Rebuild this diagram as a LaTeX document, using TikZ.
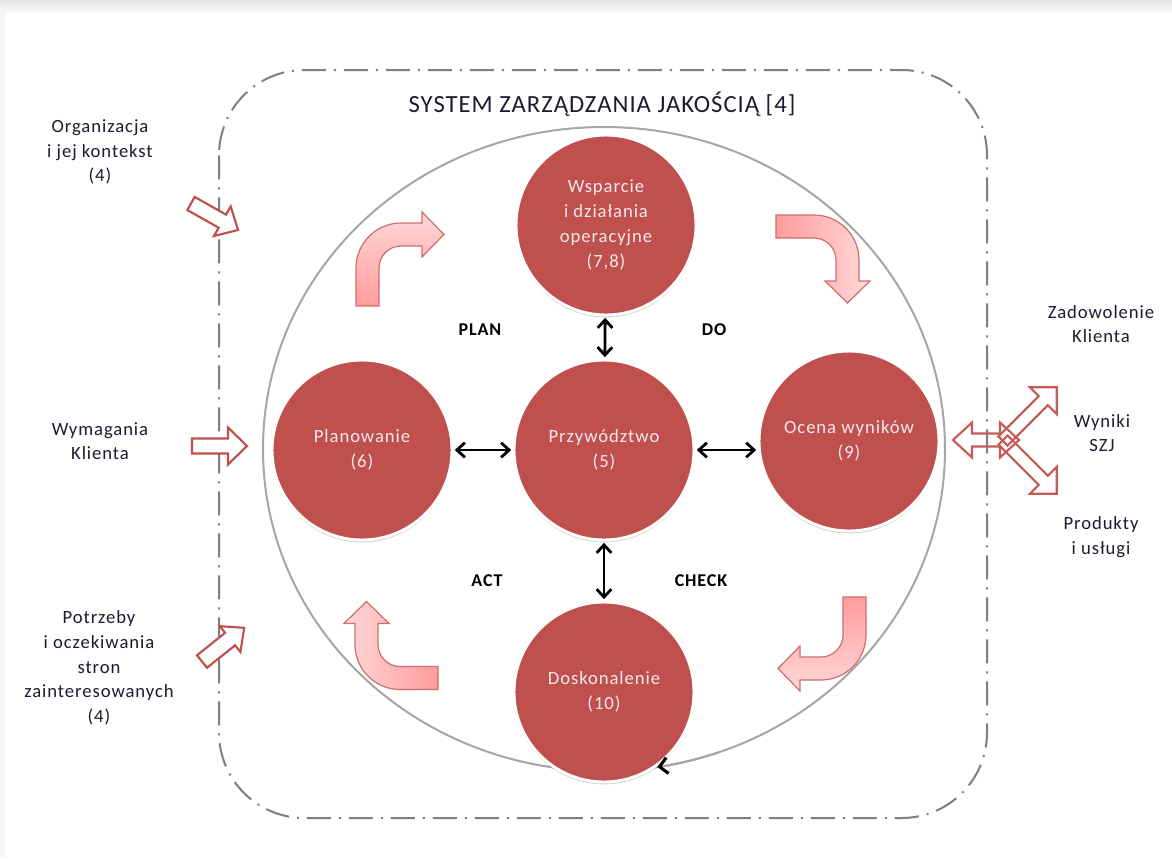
\documentclass[tikz,border=0pt]{standalone}
\usepackage{fontspec}
\setmainfont{Carlito}
\newfontfamily\labelfont[LetterSpace=5]{Carlito}
\newfontfamily\titlefont[LetterSpace=4]{Carlito}
\usetikzlibrary{arrows.meta,calc,shadows}

\definecolor{qmsred}{HTML}{C0504D}
\definecolor{qmstext}{HTML}{1C1C30}
\definecolor{qmsinner}{HTML}{F4E8EC}
\definecolor{ringgray}{HTML}{A6A6A6}
\definecolor{framegray}{HTML}{7F7F7F}
\definecolor{pinkdeep}{HTML}{FF9C9C}
\definecolor{pinklight}{HTML}{FFD8D8}
\definecolor{pinkedge}{HTML}{CF6E6B}
\definecolor{flowred}{HTML}{C55A57}

% straight block arrow: tail centre #1, angle #2, length #3,
% shaft half width #4, head half width #5, head length #6, style #7
\newcommand\blockarrow[7]{%
  \path[#7, shift={#1}, rotate=#2]
    (0,-#4) -- ({#3-#6},-#4) -- ({#3-#6},-#5) -- (#3,0)
    -- ({#3-#6},#5) -- ({#3-#6},#4) -- (0,#4) -- cycle;}

% block arrow with a head at both ends: left tip #1, length #2,
% shaft half width #3, head half width #4, head length #5, style #6
\newcommand\twinarrow[6]{%
  \path[#6, shift={#1}]
    (0,0) -- (#5,-#4) -- (#5,-#3) -- ({#2-#5},-#3) -- ({#2-#5},-#4)
    -- (#2,0) -- ({#2-#5},#4) -- ({#2-#5},#3) -- (#5,#3) -- (#5,#4) -- cycle;}

% bent PDCA arrow: tail centre #1, rotation #2, shading #3
\newcommand\bentarrow[3]{%
  \path[bentstyle, #3, shift={#1}, rotate=#2]
    (-11.5,0) -- (-11.5,-38) .. controls (-11.5,-62.8) and (8.7,-83) .. (33.5,-83)
    -- (54.5,-83) -- (54.5,-94) -- (76.5,-71.5) -- (54.5,-49) -- (54.5,-60)
    -- (33.5,-60) .. controls (21.4,-60) and (11.5,-50.1) .. (11.5,-38)
    -- (11.5,0) -- cycle;}

\tikzset{
  stage/.style={circle, fill=qmsred, draw=white, line width=2.2pt,
    minimum size=135pt, inner sep=0pt, align=center, text=qmsinner,
    font=\labelfont\fontsize{14}{18.75}\selectfont,
    drop shadow={shadow xshift=0pt, shadow yshift=-1.8pt,
      opacity=0.18, fill=black}},
  lbl/.style={align=center, text=qmstext, inner sep=0pt,
    font=\labelfont\fontsize{14}{18.5}\selectfont},
  phase/.style={text=black, inner sep=0pt,
    font=\labelfont\bfseries\fontsize{13.5}{16}\selectfont},
  link/.style={<->, >={Straight Barb[length=6pt,width=11pt]},
    line width=2.1pt, black, shorten <=1pt, shorten >=1pt},
  inarrow/.style={draw=qmsred, fill=white, line width=1.6pt, line join=miter},
  outarrow/.style={draw=flowred, line width=1.6pt, line join=miter},
  bentstyle/.style={draw=pinkedge, line width=0.9pt},
}

\begin{document}
\begin{tikzpicture}[x=0.75pt, y=-0.75pt]
\useasboundingbox (0,0) rectangle (1172,858);

% page
\fill[white] (0,0) rectangle (1172,858);
\shade[top color=gray!22, bottom color=gray!6] (0,0) rectangle (1172,11);
\fill[gray!6] (0,11) rectangle (6,858);

% system boundary
\draw[framegray, line width=1.5pt, rounded corners=64pt,
      dash pattern=on 18pt off 6pt on 1.5pt off 6pt]
  (219,70) rectangle (987,818);
\node[font=\titlefont\fontsize{18.5}{22}\selectfont, text=qmstext] (title)
  at (602,104) {SYSTEM ZARZĄDZANIA JAKOŚCIĄ [4]};

% PDCA ring
\coordinate (cyc) at (604,449);
\draw[ringgray, line width=1.5pt] (cyc) ellipse [x radius=341, y radius=322];

% bent PDCA arrows
\bentarrow{(367.5,306)}{0}{top color=pinklight, bottom color=pinkdeep}
\bentarrow{(776,226.5)}{-90}{left color=pinkdeep, right color=pinklight}
\bentarrow{(854.5,597)}{180}{top color=pinkdeep, bottom color=pinklight}
\bentarrow{(438,678)}{90}{left color=pinklight, right color=pinkdeep}

% stages
\node[stage] (wsp)   at (606,225) {Wsparcie\\i działania\\operacyjne\\(7,8)};
\node[stage] (prz)   at (604,450) {Przywództwo\\(5)};
\node[stage] (plan)  at (362,450) {Planowanie\\(6)};
\node[stage] (ocena) at (849,441) {Ocena wyników\\(9)};
\node[stage] (dosk)  at (604,692) {Doskonalenie\\(10)};

\draw[link] (wsp) -- (prz);
\draw[link] (prz) -- (dosk);
\draw[link] (plan) -- (prz);
\draw[link] (prz.east) -- (prz.east -| ocena.west);

% closing arrowhead of the ring
\draw[ringgray, line width=1.5pt,
      -{Straight Barb[length=6pt,width=12pt,line width=2.3pt,color=black]}]
  ($(cyc)+({341*cos(70)},{322*sin(70)})$)
  arc[start angle=70, end angle=81, x radius=341, y radius=322];

% phase labels
\node[phase] (plabel) at (480,330) {PLAN};
\node[phase] (dlabel) at (714,330) {DO};
\node[phase] (alabel) at (487,581) {ACT};
\node[phase] (clabel) at (701,581) {CHECK};

% inputs
\node[lbl] (org)  at (100,152) {Organizacja\\i jej kontekst\\(4)};
\node[lbl] (wym)  at (100,441) {Wymagania\\Klienta};
\node[lbl] (potr) at (99,668)  {Potrzeby\\i oczekiwania\\stron\\zainteresowanych\\(4)};
\blockarrow{(191,203.5)}{-29.4}{54}{7.5}{17}{18}{inarrow}
\blockarrow{(192,446)}{0}{55}{7.5}{18.5}{19}{inarrow}
\blockarrow{(202,661.5)}{38.6}{54}{8}{16.5}{18}{inarrow}

% outputs
\node[lbl] (zad)  at (1101,324) {Zadowolenie\\Klienta};
\node[lbl] (wyn)  at (1102,433) {Wyniki\\SZJ};
\node[lbl] (prod) at (1101,537) {Produkty\\i usługi};
\twinarrow{(953,440)}{66}{6.5}{17.5}{19}{outarrow}
\blockarrow{(1003,441)}{45}{76}{6.5}{19}{19}{outarrow}
\blockarrow{(1003,440)}{-45}{76}{6.5}{19}{19}{outarrow}
\end{tikzpicture}
\end{document}
